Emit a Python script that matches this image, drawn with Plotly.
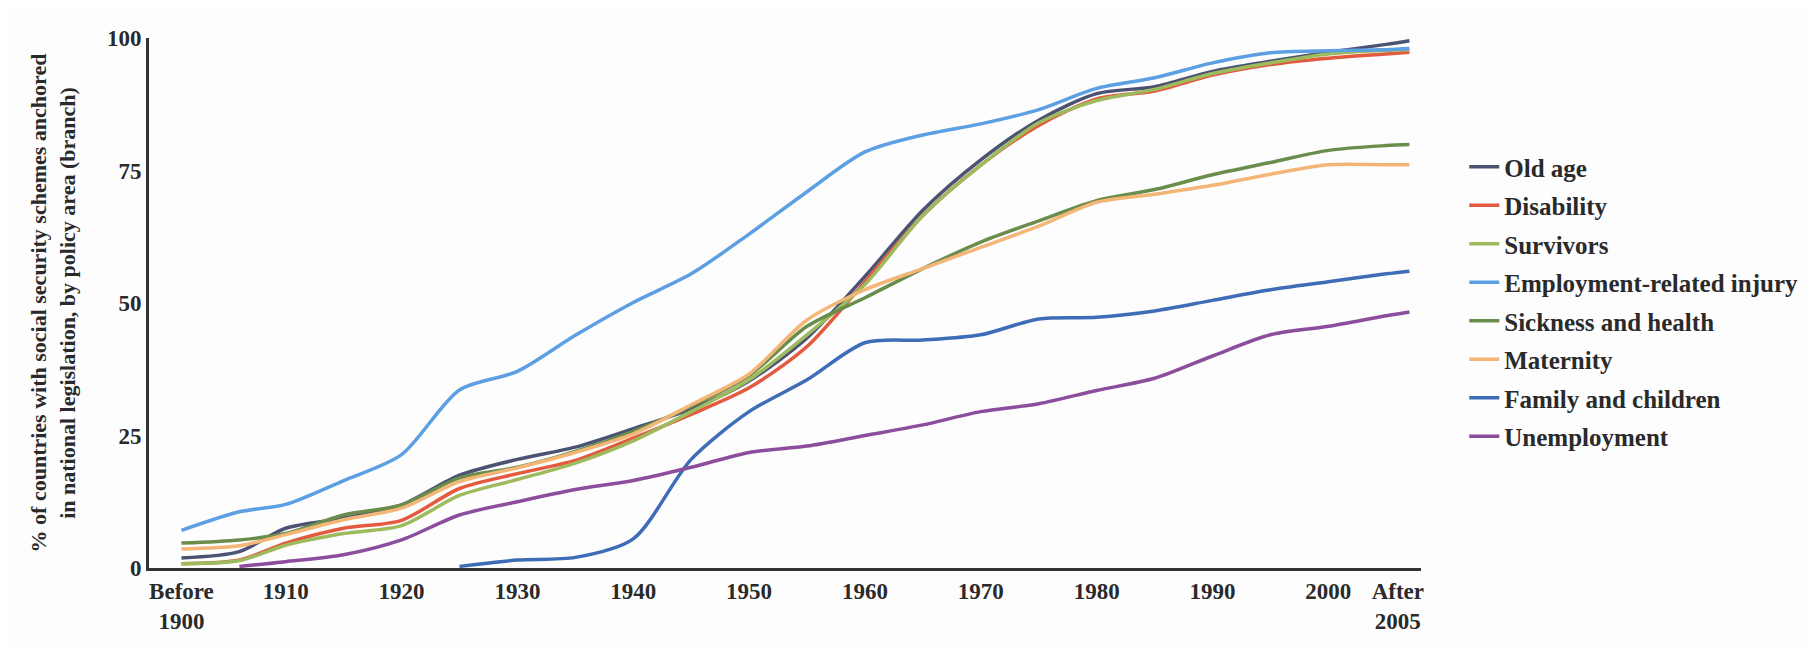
import plotly.graph_objects as go

years = [1901, 1906, 1910, 1915, 1920, 1925, 1930, 1935, 1940, 1945, 1950, 1955,
         1960, 1965, 1970, 1975, 1980, 1985, 1990, 1995, 2000, 2005, 2007]

old_age = [1.9, 3.1, 7.5, 9.4, 11.9, 17.5, 20.5, 22.8, 26.3, 30.0, 35.3, 43.4,
           55.0, 67.5, 77.0, 84.5, 89.5, 90.8, 93.7, 95.6, 97.3, 98.8, 99.5]
disability = [0.8, 1.5, 4.7, 7.5, 9.0, 15.0, 17.8, 20.3, 24.5, 29.0, 34.0, 41.8,
              54.0, 66.5, 76.0, 83.5, 88.5, 90.0, 93.0, 95.0, 96.2, 97.0, 97.3]
survivors = [0.8, 1.4, 4.3, 6.5, 8.0, 13.7, 16.7, 19.8, 24.0, 29.5, 35.5, 44.0,
             53.5, 66.5, 76.0, 84.0, 88.2, 90.3, 93.3, 95.3, 97.0, 97.7, 97.8]
employment_injury = [7.1, 10.6, 12.0, 16.5, 21.4, 33.6, 37.1, 43.9, 50.1, 55.5, 63.0, 71.0,
                     78.5, 81.7, 83.8, 86.5, 90.5, 92.5, 95.3, 97.2, 97.6, 97.8, 98.0]
sickness = [4.7, 5.3, 6.5, 10.0, 11.9, 17.0, 19.0, 22.0, 25.8, 30.5, 36.3, 45.6,
            51.0, 56.5, 61.5, 65.5, 69.3, 71.4, 74.2, 76.5, 78.8, 79.7, 79.9]
maternity = [3.6, 4.2, 6.3, 9.1, 11.3, 16.3, 18.9, 21.8, 25.3, 30.8, 36.6, 46.8,
             52.5, 56.5, 60.5, 64.5, 69.0, 70.5, 72.2, 74.3, 76.1, 76.1, 76.1]
family = [None, None, None, None, None, 0.3, 1.5, 2.0, 5.5, 20.5, 29.5, 35.5,
          42.5, 43.0, 44.0, 47.0, 47.3, 48.5, 50.5, 52.5, 54.0, 55.5, 56.0]
unemployment = [None, 0.3, 1.2, 2.5, 5.3, 10.0, 12.5, 14.8, 16.5, 19.0, 21.8, 23.0,
                25.0, 27.0, 29.5, 31.0, 33.5, 35.8, 40.0, 44.0, 45.6, 47.6, 48.3]

series_names = ["Old age", "Disability", "Survivors", "Employment-related injury",
                "Sickness and health", "Maternity", "Family and children", "Unemployment"]
series_values = [old_age, disability, survivors, employment_injury,
                 sickness, maternity, family, unemployment]
series_colors = ["#4b5272", "#e35a3f", "#9dbb5d", "#5c9fe2",
                 "#6a8d4c", "#f3b677", "#3e6cb6", "#8c4d9c"]

tick_vals = [1901, 1910, 1920, 1930, 1940, 1950, 1960, 1970, 1980, 1990, 2000, 2006]
tick_text = ["Before<br>1900", "1910", "1920", "1930", "1940", "1950", "1960",
             "1970", "1980", "1990", "2000", "After<br>2005"]

y_ticks = [0, 25, 50, 75, 100]

FONT = "Liberation Serif"
TXT = "#2a2a2a"

fig = go.Figure()
for i, (name, vals, col) in enumerate(zip(series_names, series_values, series_colors)):
    fig.add_trace(go.Scatter(
        x=years, y=vals, name=name, mode="lines",
        line=dict(color=col, width=3.5, shape="spline", smoothing=0.8),
        legendgroup=f"g{i}",
    ))

fig.update_layout(
    width=1816, height=650,
    paper_bgcolor="#fdfdfe", plot_bgcolor="#fdfdfe",
    margin=dict(l=141, r=403, t=30, b=90),
    font=dict(family=FONT, size=22, color=TXT),
    showlegend=True,
    legend=dict(
        x=1.034, y=0.80, xanchor="left", yanchor="top",
        font=dict(family=FONT, size=25, color=TXT, weight="bold"),
        bgcolor="rgba(0,0,0,0)", traceorder="grouped", tracegroupgap=3,
        itemwidth=30,
    ),
    xaxis=dict(
        range=[1898.2, 2008], tickvals=tick_vals, ticktext=tick_text,
        showgrid=False, zeroline=False, showline=True, linecolor="#333333",
        linewidth=3, ticks="",
        tickfont=dict(family=FONT, size=23, color=TXT, weight="bold"),
    ),
    yaxis=dict(
        range=[0, 100], tickvals=y_ticks, showgrid=False, zeroline=False,
        showline=True, linecolor="#333333", linewidth=3, ticks="",
        tickfont=dict(family=FONT, size=23, color=TXT, weight="bold"),
        title=dict(
            text="% of countries with social security schemes anchored<br>in national legislation, by policy area (branch)",
            font=dict(family=FONT, size=22, color=TXT, weight="bold"), standoff=26,
        ),
    ),
)

fig.write_html("out.html")
